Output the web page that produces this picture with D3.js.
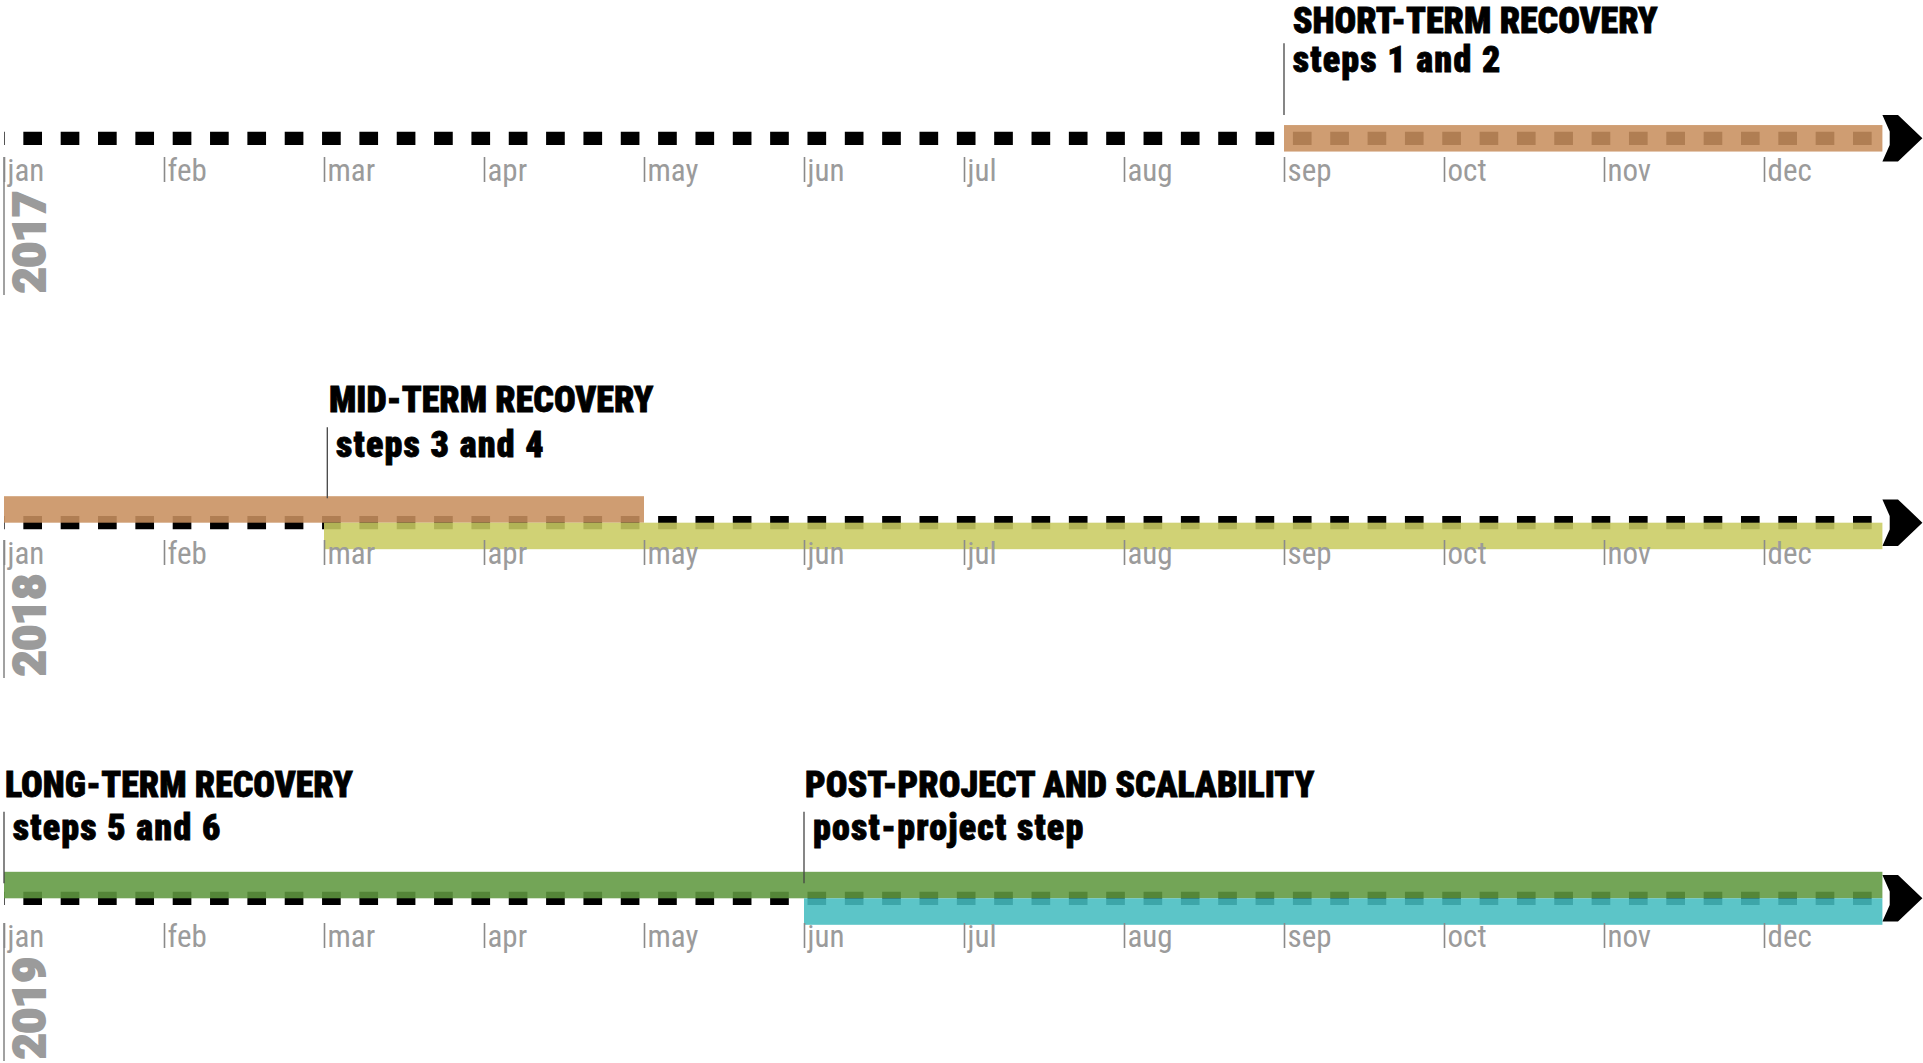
<!DOCTYPE html>
<html>
<head>
<meta charset="utf-8">
<script src="https://cdn.jsdelivr.net/npm/d3@7"></script>
<style>
  body { margin: 0; background: #fff; }
  svg { display: block; }
</style>
</head>
<body>
<div id="chart"></div>
<script>
// timeline data
const years = [2017, 2018, 2019];
const months = ['jan', 'feb', 'mar', 'apr', 'may', 'jun', 'jul', 'aug', 'sep', 'oct', 'nov', 'dec'];

// bars: row (year), start month, end month, lane, colour
const barYears  = [2017, 2018, 2018, 2019, 2019];
const barStarts = [8, 0, 2, 0, 5];
const barEnds   = [11.74, 4, 11.74, 11.74, 11.74];
const barLanes  = ['mid', 'top', 'bottom', 'top', 'bottom'];
const barColors = ['#c8905f', '#c8905f', '#cacc62', '#609840', '#45bdc0'];

// annotations
const noteYears    = [2017, 2018, 2019, 2019];
const noteMonths   = [8, 2, 0, 5];
const noteTitles   = ['SHORT-TERM RECOVERY', 'MID-TERM RECOVERY', 'LONG-TERM RECOVERY', 'POST-PROJECT AND SCALABILITY'];
const noteSubtitles = ['steps 1 and 2', 'steps 3 and 4', 'steps 5 and 6', 'post-project step'];

const w = 1923;
const h = 1063;

const svg = d3.select('#chart')
  .append('svg')
  .attr('width', w)
  .attr('height', h);

// layout per row
const lineY = { 2017: 138.3, 2018: 522.7, 2019: 898.3 };
const axisY = { 2017: 157, 2018: 540, 2019: 923 };
const barH = 26.5;
const lineEnd = 11.74;

const xScale = d3.scaleLinear()
  .domain([0, 12])
  .range([4, 1924]);

const narrow = '"Liberation Sans Narrow", "Arial Narrow", "Roboto Condensed", sans-serif';

// dashed lines
svg.selectAll('line.timeline')
  .data(years)
  .enter()
  .append('line')
  .attr('class', 'timeline')
  .attr('x1', xScale(0))
  .attr('x2', xScale(lineEnd))
  .attr('y1', d => lineY[d])
  .attr('y2', d => lineY[d])
  .attr('stroke', '#000')
  .attr('stroke-width', 13.3)
  .attr('stroke-dasharray', '18.67,18.67')
  .attr('stroke-dashoffset', 18);

// arrows
svg.selectAll('polygon.arrow')
  .data(years)
  .enter()
  .append('polygon')
  .attr('class', 'arrow')
  .attr('points', '0,-23.3 15.6,-23.3 40,0 15.6,23.3 0,23.3 7.3,6.7 7.3,-6.7')
  .attr('transform', d => 'translate(' + xScale(lineEnd) + ',' + lineY[d] + ')')
  .attr('fill', '#000');

// bars
const bars = barYears.map((y, i) => ({
  year: y, start: barStarts[i], end: barEnds[i], lane: barLanes[i], color: barColors[i]
}));
const laneOffset = { mid: -barH / 2, top: -barH, bottom: 0 };

svg.selectAll('rect.bar')
  .data(bars)
  .enter()
  .append('rect')
  .attr('class', 'bar')
  .attr('x', d => xScale(d.start))
  .attr('y', d => lineY[d.year] + laneOffset[d.lane])
  .attr('width', d => xScale(d.end) - xScale(d.start))
  .attr('height', barH)
  .attr('fill', d => d.color)
  .attr('fill-opacity', 0.88);

// month axes
years.forEach(y => {
  const axis = d3.axisBottom(xScale)
    .tickValues(d3.range(12))
    .tickFormat(i => months[i])
    .tickSize(25);

  const g = svg.append('g')
    .attr('transform', 'translate(0,' + axisY[y] + ')')
    .call(axis);

  g.select('.domain').remove();
  g.selectAll('.tick line')
    .attr('stroke', '#8a8a8a')
    .attr('stroke-width', 1.6);
  g.selectAll('.tick text')
    .attr('x', 3)
    .attr('y', 24)
    .attr('dy', 0)
    .attr('text-anchor', 'start')
    .attr('fill', '#9b9b9b')
    .attr('font-family', narrow)
    .attr('font-size', 31);

  // jan tick runs down beside the year
  svg.append('line')
    .attr('x1', xScale(0))
    .attr('x2', xScale(0))
    .attr('y1', axisY[y])
    .attr('y2', axisY[y] + 138)
    .attr('stroke', '#8a8a8a')
    .attr('stroke-width', 1.6);

  svg.append('text')
    .attr('transform', 'translate(45,' + (axisY[y] + 136) + ') rotate(-90)')
    .attr('fill', '#9b9b9b')
    .attr('stroke', '#9b9b9b')
    .attr('stroke-width', 2)
    .attr('font-family', 'Roboto, "Liberation Sans", sans-serif')
    .attr('font-weight', 900)
    .attr('font-size', 44)
    .text(y);
});

// annotations (baselines and line ends per note)
const notePos = [
  { title: 33.3, sub: 71.7, top: 43.3, bottom: 115, dxTitle: 8.7, dxSub: 8.7 },
  { title: 411.7, sub: 457.3, top: 427.3, bottom: 498.3, dxTitle: 5, dxSub: 12 },
  { title: 796.7, sub: 840, top: 811.7, bottom: 883.3, dxTitle: 1, dxSub: 8.7 },
  { title: 796.7, sub: 840, top: 811.7, bottom: 883.3, dxTitle: 1, dxSub: 9 }
];
const lineDx = [0, 3.3, 0, 0];

noteTitles.forEach((t, i) => {
  const x0 = xScale(noteMonths[i]) + lineDx[i];
  const p = notePos[i];

  svg.append('line')
    .attr('x1', x0)
    .attr('x2', x0)
    .attr('y1', p.top)
    .attr('y2', p.bottom)
    .attr('stroke', '#444')
    .attr('stroke-width', 1.3);

  svg.append('text')
    .attr('x', x0 + p.dxTitle - lineDx[i])
    .attr('y', p.title)
    .attr('font-family', narrow)
    .attr('font-weight', 900)
    .attr('font-size', 36)
    .attr('fill', '#000')
    .attr('stroke', '#000')
    .attr('stroke-width', 0.8)
    .text(t);

  svg.append('text')
    .attr('x', x0 + p.dxSub - lineDx[i])
    .attr('y', p.sub)
    .attr('font-family', narrow)
    .attr('font-weight', 900)
    .attr('font-size', 36)
    .attr('letter-spacing', 1.2)
    .attr('fill', '#000')
    .attr('stroke', '#000')
    .attr('stroke-width', 0.8)
    .text(noteSubtitles[i]);
});
</script>
</body>
</html>
